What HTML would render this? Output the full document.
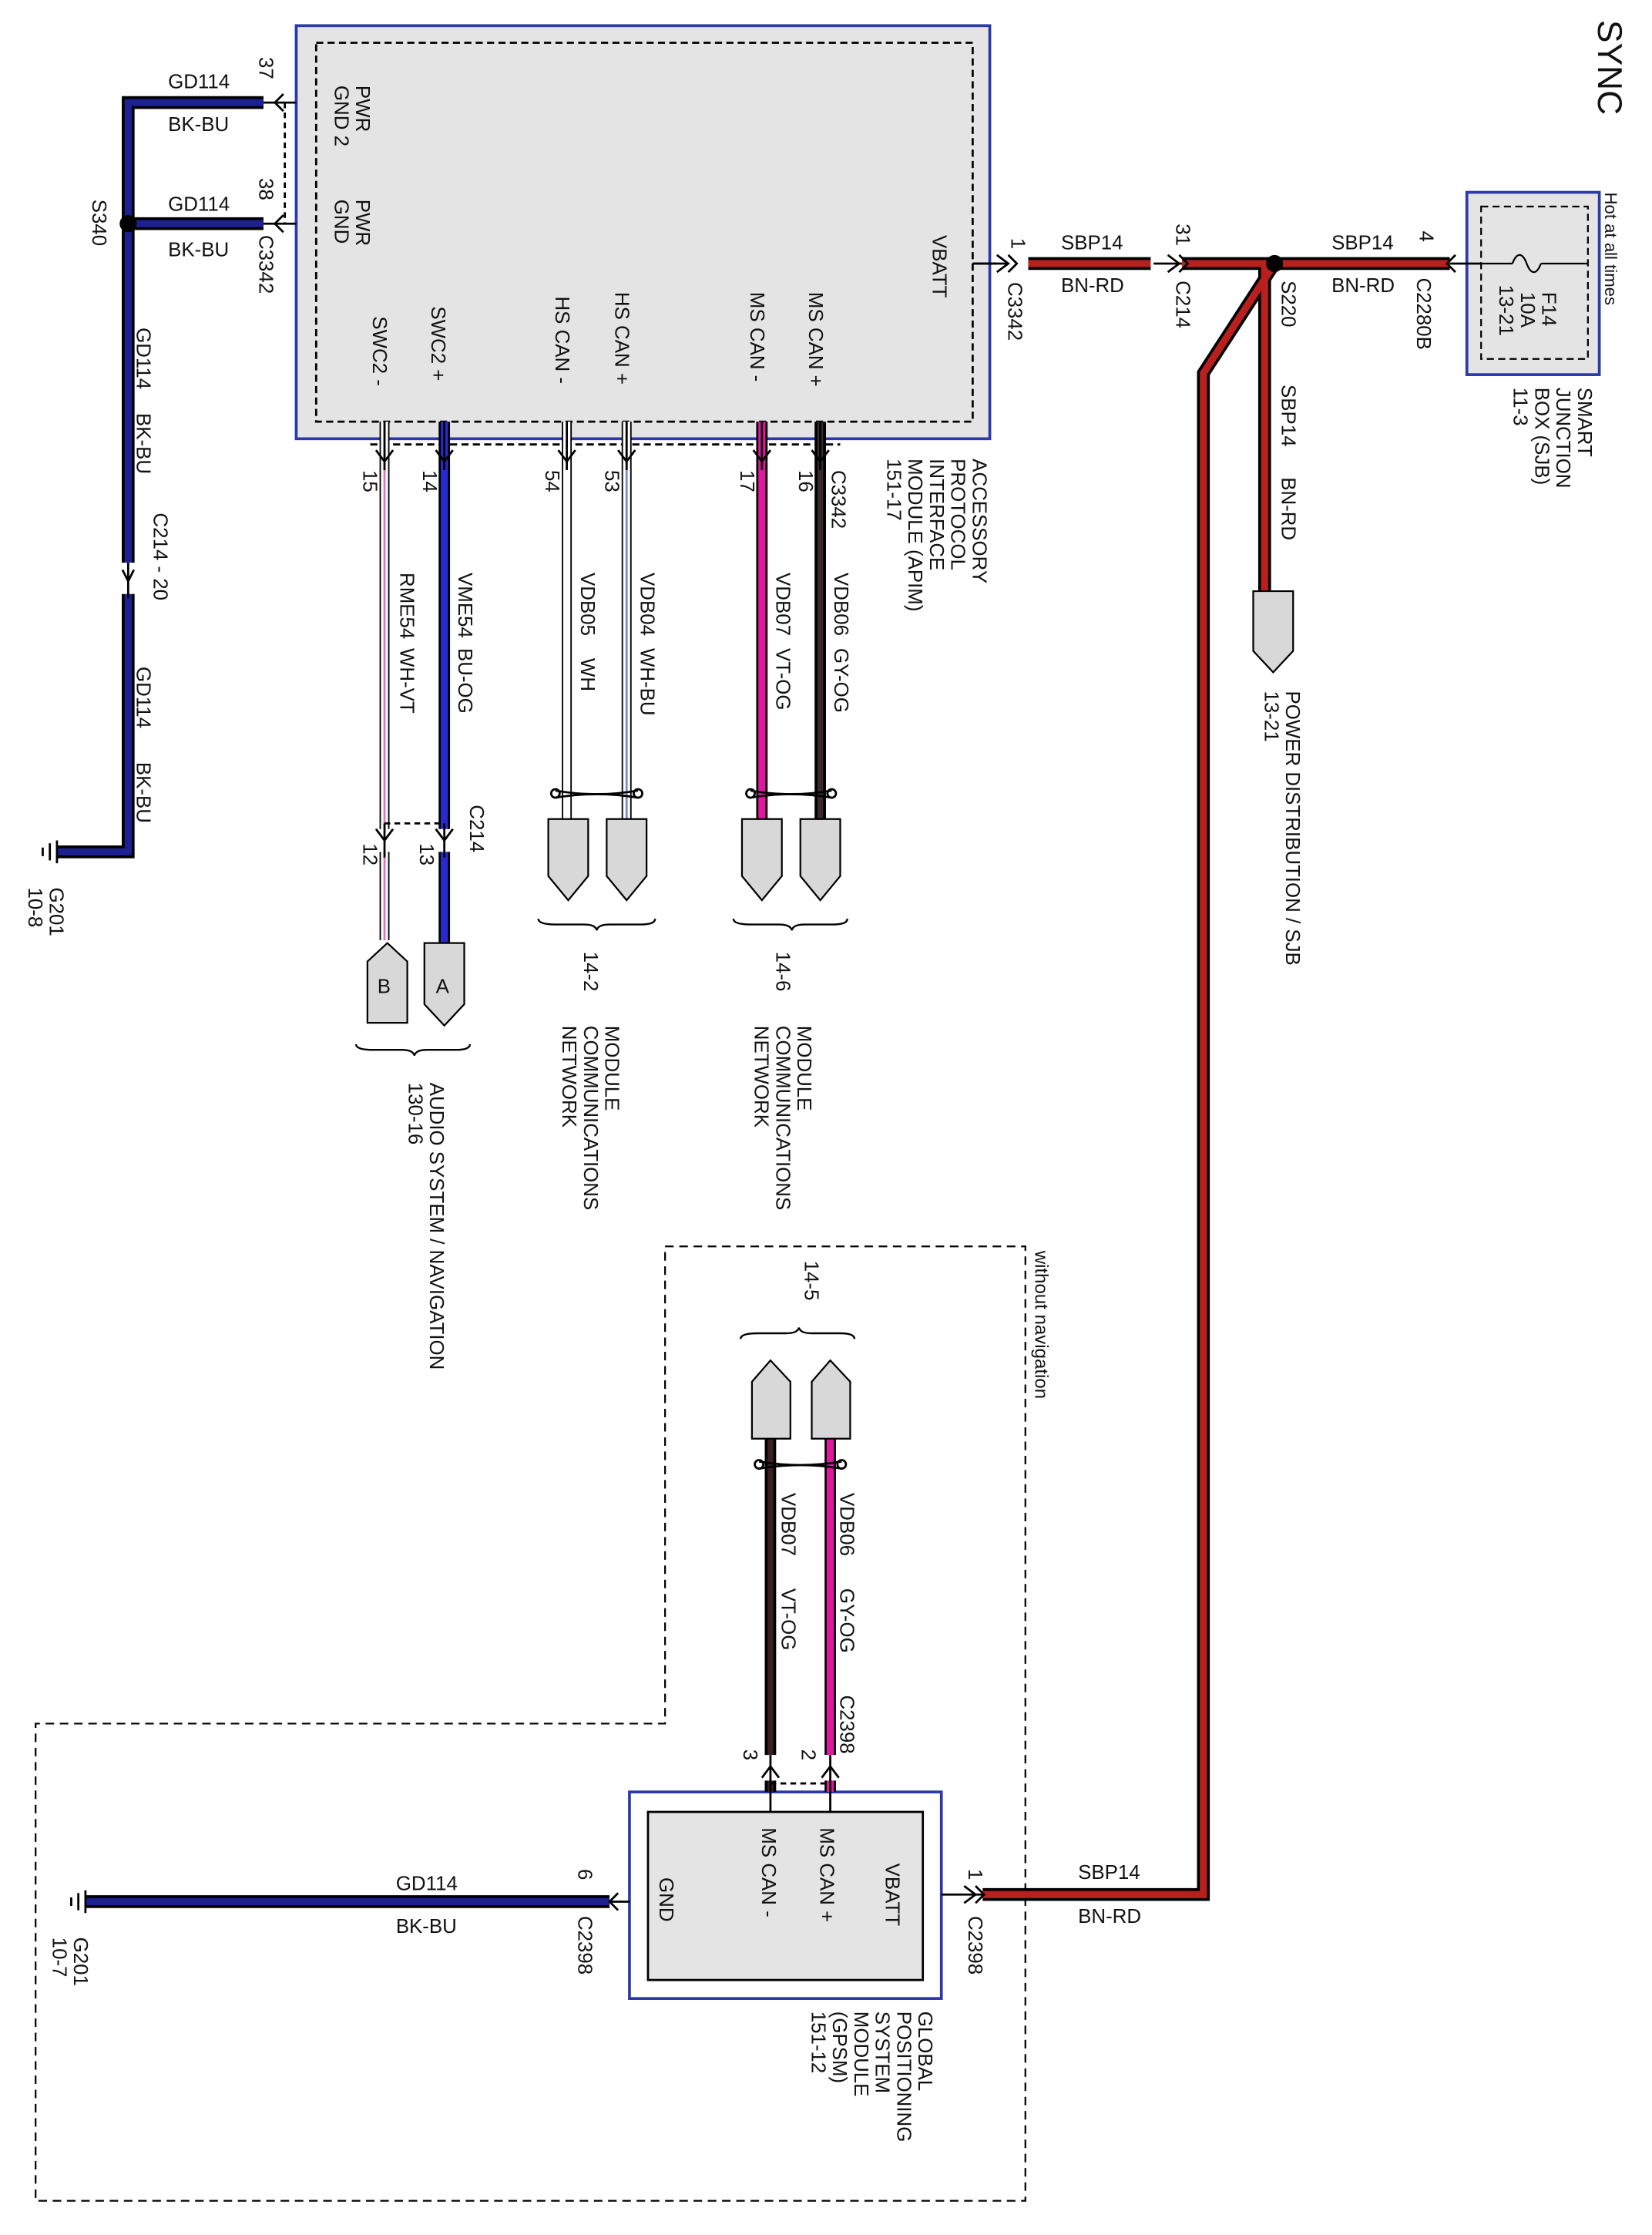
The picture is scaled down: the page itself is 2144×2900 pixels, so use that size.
<!DOCTYPE html>
<html><head><meta charset="utf-8"><style>
html,body{margin:0;padding:0;background:#fff}
svg{display:block}
text{font-family:"Liberation Sans",Arial,sans-serif;font-size:14px;fill:#111}
</style></head><body>
<svg width="2144" height="2900" viewBox="0 0 1160 1569" xmlns="http://www.w3.org/2000/svg">
<rect width="1160" height="1569" fill="#fff"/>
<!-- APIM box -->
<rect x="208" y="18" width="487" height="290" fill="#e4e4e4" stroke="#2b3aa8" stroke-width="2"/>
<rect x="222" y="30" width="461" height="266" fill="none" stroke="#000" stroke-width="1.5" stroke-dasharray="5,3"/>
<!-- SJB box -->
<rect x="1030" y="135" width="93" height="128" fill="#e4e4e4" stroke="#2b3aa8" stroke-width="2"/>
<rect x="1040" y="145" width="75" height="107" fill="none" stroke="#000" stroke-width="1.2" stroke-dasharray="5,3"/>
<path d="M1040 185 H1062 M1082 185 H1115 M1062 185 c3,-8 7,-8 10,0 c3,8 7,8 10,0" fill="none" stroke="#000" stroke-width="1.2"/>
<!-- GPSM box -->
<rect x="442" y="1258" width="219" height="145" fill="#fff" stroke="#2b3aa8" stroke-width="2"/>
<rect x="455" y="1272" width="193" height="118" fill="#e4e4e4" stroke="#000" stroke-width="1.5"/>
<!-- without navigation dashed -->
<path d="M467 875 H720 V1545 H25 V1210 H467 Z" fill="none" stroke="#000" stroke-width="1.2" stroke-dasharray="6,4"/>

<g fill="none" stroke-linejoin="miter">
<path d="M720 185 H1018 M888 185 V415 M895 185 L845 262 V1330 H690" stroke="#000" stroke-width="9"/>
<path d="M720 185 H1018 M888 185 V415 M895 185 L845 262 V1330 H690" stroke="#b8201e" stroke-width="5"/>
<path d="M683 185 H720" stroke="#000" stroke-width="1.5"/>
<path d="M185 72 H90 V598 H40 M185 157 H90 M428 1335 H60" stroke="#000" stroke-width="9"/>
<path d="M185 72 H90 V598 H40 M185 157 H90 M428 1335 H60" stroke="#1c2090" stroke-width="5"/>
</g>
<circle cx="895" cy="185" r="6" fill="#000"/>
<circle cx="90" cy="157" r="6" fill="#000"/>
<rect x="700" y="178" width="22" height="14" fill="#fff"/>
<rect x="808" y="178" width="22" height="14" fill="#fff"/>
<rect x="83" y="395" width="14" height="22" fill="#fff"/>
<path d="M86 400 L90 408 L94 400 M90 395 V420" stroke="#000" stroke-width="1.5" fill="none"/>
<g stroke="#000" stroke-width="1.5" fill="none">
<path d="M683 185 H708 M700 179 L708 185 L700 191 M708 179 L714 185 L708 191"/>
<path d="M810 185 H830 M820 179 L828 185 L820 191 M828 179 L834 185 L828 191"/>
<path d="M1018 185 H1040 M1022 179 L1016 185 L1022 191"/>
<path d="M185 72 H208 M199 66 L193 72 L199 78 M185 157 H208 M199 151 L193 157 L199 163"/>
<path d="M200 72 V157" stroke-dasharray="4,3"/>
<path d="M661 1330 H690 M677 1324 L685 1330 L677 1336 M685 1324 L691 1330 L685 1336"/>
<path d="M428 1335 H442 M434 1329 L428 1335 L434 1341"/>
</g>
<g stroke="#000" stroke-width="1.5">
<path d="M40 590 V606 M35 592 V604 M30 595 V601"/>
<path d="M60 1327 V1343 M55 1329 V1341 M50 1332 V1338"/>
</g>
<path d="M260 312 H590" stroke="#000" stroke-width="1.5" stroke-dasharray="5,3"/>
<g fill="none">
<path d="M270 296 V660" stroke="#000" stroke-width="7"/>
<path d="M270 296 V660" stroke="#fff" stroke-width="5"/>
<path d="M270 296 V660" stroke="#e070c8" stroke-width="1.5"/>
<path d="M312 296 V662" stroke="#000" stroke-width="8"/>
<path d="M312 296 V662" stroke="#2a2acc" stroke-width="5"/>
<path d="M398 296 V575" stroke="#000" stroke-width="7"/>
<path d="M398 296 V575" stroke="#fff" stroke-width="5"/>
<path d="M440 296 V575" stroke="#000" stroke-width="7"/>
<path d="M440 296 V575" stroke="#fff" stroke-width="5"/>
<path d="M440 296 V575" stroke="#7a8ad0" stroke-width="1.5"/>
<path d="M535 296 V575" stroke="#000" stroke-width="8"/>
<path d="M535 296 V575" stroke="#e018a0" stroke-width="5"/>
<path d="M576 296 V575" stroke="#000" stroke-width="8"/>
<path d="M576 296 V575" stroke="#3a2a2a" stroke-width="4"/>
<path d="M541 1010 V1258" stroke="#000" stroke-width="8"/>
<path d="M541 1010 V1258" stroke="#3a2020" stroke-width="4"/>
<path d="M583 1010 V1258" stroke="#000" stroke-width="8"/>
<path d="M583 1010 V1258" stroke="#e018a0" stroke-width="5"/>
</g>
<rect x="262" y="582" width="58" height="16" fill="#fff"/>
<rect x="530" y="1232" width="60" height="18" fill="#fff"/>
<g stroke="#000" stroke-width="1.5" fill="none">
<path d="M270 296 V330 M312 296 V330 M398 296 V330 M440 296 V330 M535 296 V330 M576 296 V330"/>
<path d="M264 316 L270 324 L276 316 M306 316 L312 324 L318 316 M392 316 L398 324 L404 316 M434 316 L440 324 L446 316 M529 316 L535 324 L541 316 M570 316 L576 324 L582 316"/>
<path d="M270 578 V602 M312 578 V602 M264 582 L270 590 L276 582 M306 582 L312 590 L318 582"/>
<path d="M270 578 H312" stroke-dasharray="4,3"/>
<path d="M541 1232 V1272 M583 1232 V1272 M535 1248 L541 1240 L547 1248 M577 1248 L583 1240 L589 1248"/>
<path d="M541 1252 H583" stroke-dasharray="4,3"/>
<path d="M390 555 Q419 560 448 555 M390 560 Q419 555 448 560"/>
<circle cx="390" cy="557" r="3"/><circle cx="448" cy="557" r="3"/>
<path d="M527 555 Q555 560 584 555 M527 560 Q555 555 584 560"/>
<circle cx="527" cy="557" r="3"/><circle cx="584" cy="557" r="3"/>
<path d="M533 1026 Q562 1031 591 1026 M533 1031 Q562 1026 591 1031"/>
<circle cx="533" cy="1028" r="3"/><circle cx="591" cy="1028" r="3"/>
</g>
<g fill="#d8d8d8" stroke="#000" stroke-width="1.2">
<polygon points="880,415 908,415 908,457 894,472 880,457"/>
<polygon points="385,575 413,575 413,615 399,632 385,615"/>
<polygon points="426,575 454,575 454,615 440,632 426,615"/>
<polygon points="521,575 549,575 549,615 535,632 521,615"/>
<polygon points="562,575 590,575 590,615 576,632 562,615"/>
<polygon points="258,675 272,662 286,675 286,718 258,718"/>
<polygon points="298,662 326,662 326,705 312,720 298,705"/>
<polygon points="528,970 541,955 555,970 555,1010 528,1010"/>
<polygon points="570,970 583,955 597,970 597,1010 570,1010"/>
</g>
<text x="265" y="697">B</text>
<text x="306" y="697">A</text>
<g fill="none" stroke="#000" stroke-width="1.3">
<path d="M378 645 Q378 649 390 649 H410 Q418 649 419 653 Q420 649 428 649 H450 Q460 649 460 645"/>
<path d="M515 645 Q515 649 527 649 H547 Q555 649 556 653 Q557 649 565 649 H585 Q595 649 595 645"/>
<path d="M250 733 Q250 737 262 737 H282 Q290 737 291 741 Q292 737 300 737 H320 Q330 737 330 733"/>
<path d="M520 940 Q520 936 532 936 H552 Q560 936 561 932 Q562 936 570 936 H590 Q600 936 600 940"/>
</g>

<g>
<text x="118" y="62">GD114</text><text x="118" y="92">BK-BU</text>
<text x="118" y="148">GD114</text><text x="118" y="180">BK-BU</text>
<text x="745" y="175">SBP14</text><text x="745" y="205">BN-RD</text>
<text x="935" y="175">SBP14</text><text x="935" y="205">BN-RD</text>
<text x="278" y="1327">GD114</text><text x="278" y="1357">BK-BU</text>
<text x="757" y="1319">SBP14</text><text x="757" y="1350">BN-RD</text>
</g>

<g>
<text transform="translate(1122,14) rotate(90)" style="font-size:24px">SYNC</text>
<text transform="translate(1127,135) rotate(90)" style="font-size:12px">Hot at all times</text>
<text transform="translate(1083,205) rotate(90)">F14</text>
<text transform="translate(1068,205) rotate(90)">10A</text>
<text transform="translate(1053,200) rotate(90)">13-21</text>
<text transform="translate(1108,272) rotate(90)">SMART</text>
<text transform="translate(1093,272) rotate(90)">JUNCTION</text>
<text transform="translate(1078,272) rotate(90)">BOX (SJB)</text>
<text transform="translate(1063,272) rotate(90)">11-3</text>
<text transform="translate(997,162) rotate(90)">4</text>
<text transform="translate(995,195) rotate(90)">C2280B</text>
<text transform="translate(900,197) rotate(90)">S220</text>
<text transform="translate(826,157) rotate(90)">31</text>
<text transform="translate(826,197) rotate(90)">C214</text>
<text transform="translate(710,167) rotate(90)">1</text>
<text transform="translate(708,198) rotate(90)">C3342</text>
<text transform="translate(900,270) rotate(90)">SBP14</text>
<text transform="translate(900,335) rotate(90)">BN-RD</text>
<text transform="translate(903,485) rotate(90)">POWER DISTRIBUTION / SJB</text>
<text transform="translate(888,485) rotate(90)">13-21</text>

<text transform="translate(182,40) rotate(90)">37</text>
<text transform="translate(182,125) rotate(90)">38</text>
<text transform="translate(182,165) rotate(90)">C3342</text>
<text transform="translate(65,140) rotate(90)">S340</text>
<text transform="translate(250,60) rotate(90)">PWR</text>
<text transform="translate(235,60) rotate(90)">GND 2</text>
<text transform="translate(250,140) rotate(90)">PWR</text>
<text transform="translate(235,140) rotate(90)">GND</text>
<text transform="translate(655,165) rotate(90)">VBATT</text>
<text transform="translate(262,222) rotate(90)">SWC2 -</text>
<text transform="translate(303,215) rotate(90)">SWC2 +</text>
<text transform="translate(390,208) rotate(90)">HS CAN -</text>
<text transform="translate(432,205) rotate(90)">HS CAN +</text>
<text transform="translate(527,205) rotate(90)">MS CAN -</text>
<text transform="translate(568,205) rotate(90)">MS CAN +</text>

<text transform="translate(683,322) rotate(90)">ACCESSORY</text>
<text transform="translate(668,322) rotate(90)">PROTOCOL</text>
<text transform="translate(653,322) rotate(90)">INTERFACE</text>
<text transform="translate(638,322) rotate(90)">MODULE (APIM)</text>
<text transform="translate(623,322) rotate(90)">151-17</text>

<text transform="translate(255,330) rotate(90)">15</text>
<text transform="translate(297,330) rotate(90)">14</text>
<text transform="translate(383,330) rotate(90)">54</text>
<text transform="translate(425,330) rotate(90)">53</text>
<text transform="translate(520,330) rotate(90)">17</text>
<text transform="translate(561,330) rotate(90)">16</text>
<text transform="translate(584,330) rotate(90)">C3342</text>

<text transform="translate(281,402) rotate(90)">RME54</text>
<text transform="translate(281,455) rotate(90)">WH-VT</text>
<text transform="translate(322,402) rotate(90)">VME54</text>
<text transform="translate(322,455) rotate(90)">BU-OG</text>
<text transform="translate(408,402) rotate(90)">VDB05</text>
<text transform="translate(408,462) rotate(90)">WH</text>
<text transform="translate(450,402) rotate(90)">VDB04</text>
<text transform="translate(450,455) rotate(90)">WH-BU</text>
<text transform="translate(545,402) rotate(90)">VDB07</text>
<text transform="translate(545,455) rotate(90)">VT-OG</text>
<text transform="translate(586,402) rotate(90)">VDB06</text>
<text transform="translate(586,455) rotate(90)">GY-OG</text>

<text transform="translate(96,230) rotate(90)">GD114</text>
<text transform="translate(96,290) rotate(90)">BK-BU</text>
<text transform="translate(108,360) rotate(90)">C214 - 20</text>
<text transform="translate(96,468) rotate(90)">GD114</text>
<text transform="translate(96,535) rotate(90)">BK-BU</text>
<text transform="translate(35,623) rotate(90)">G201</text>
<text transform="translate(20,623) rotate(90)">10-8</text>

<text transform="translate(330,565) rotate(90)">C214</text>
<text transform="translate(255,592) rotate(90)">12</text>
<text transform="translate(295,592) rotate(90)">13</text>

<text transform="translate(410,668) rotate(90)">14-2</text>
<text transform="translate(545,668) rotate(90)">14-6</text>
<text transform="translate(425,720) rotate(90)">MODULE</text>
<text transform="translate(410,720) rotate(90)">COMMUNICATIONS</text>
<text transform="translate(395,720) rotate(90)">NETWORK</text>
<text transform="translate(560,720) rotate(90)">MODULE</text>
<text transform="translate(545,720) rotate(90)">COMMUNICATIONS</text>
<text transform="translate(530,720) rotate(90)">NETWORK</text>
<text transform="translate(302,760) rotate(90)">AUDIO SYSTEM / NAVIGATION</text>
<text transform="translate(287,760) rotate(90)">130-16</text>

<text transform="translate(727,878) rotate(90)" style="font-size:13px">without navigation</text>
<text transform="translate(565,885) rotate(90)">14-5</text>
<text transform="translate(590,1048) rotate(90)">VDB06</text>
<text transform="translate(590,1115) rotate(90)">GY-OG</text>
<text transform="translate(549,1048) rotate(90)">VDB07</text>
<text transform="translate(549,1115) rotate(90)">VT-OG</text>
<text transform="translate(590,1190) rotate(90)">C2398</text>
<text transform="translate(563,1228) rotate(90)">2</text>
<text transform="translate(522,1228) rotate(90)">3</text>

<text transform="translate(622,1308) rotate(90)">VBATT</text>
<text transform="translate(576,1283) rotate(90)">MS CAN +</text>
<text transform="translate(535,1283) rotate(90)">MS CAN -</text>
<text transform="translate(463,1318) rotate(90)">GND</text>
<text transform="translate(680,1312) rotate(90)">1</text>
<text transform="translate(680,1345) rotate(90)">C2398</text>
<text transform="translate(406,1312) rotate(90)">6</text>
<text transform="translate(406,1345) rotate(90)">C2398</text>
<text transform="translate(52,1360) rotate(90)">G201</text>
<text transform="translate(37,1360) rotate(90)">10-7</text>

<text transform="translate(645,1412) rotate(90)">GLOBAL</text>
<text transform="translate(630,1412) rotate(90)">POSITIONING</text>
<text transform="translate(615,1412) rotate(90)">SYSTEM</text>
<text transform="translate(600,1412) rotate(90)">MODULE</text>
<text transform="translate(585,1412) rotate(90)">(GPSM)</text>
<text transform="translate(570,1412) rotate(90)">151-12</text>
</g>
</svg>
</body></html>
